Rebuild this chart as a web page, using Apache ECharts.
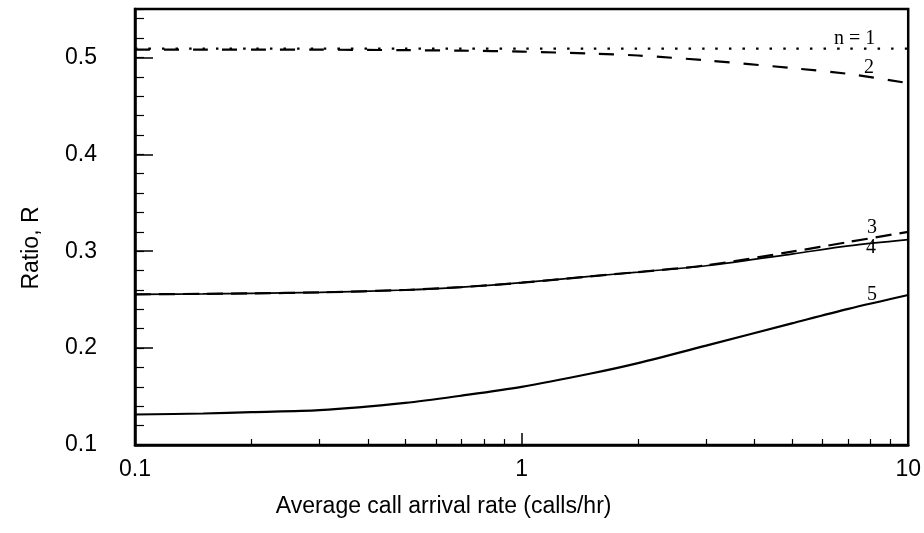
<!DOCTYPE html>
<html>
<head>
<meta charset="utf-8">
<script src="https://cdn.jsdelivr.net/npm/echarts@6/dist/echarts.min.js"></script>
<style>
  html, body { margin: 0; padding: 0; background: #fff; }
  #chart { width: 924px; height: 533px; }
</style>
</head>
<body>
<div id="chart"></div>
<script>
// average call arrival rate (calls/hr), shared x values of all curves
const rates = [0.1, 0.15, 0.2, 0.3, 0.5, 0.7, 1, 1.5, 2, 3, 5, 7, 10];

// ratio R for n = 1..5
const ratioN1 = [0.509, 0.509, 0.509, 0.509, 0.509, 0.509, 0.509, 0.509, 0.509, 0.509, 0.509, 0.509, 0.509];
const ratioN2 = [0.508, 0.508, 0.508, 0.508, 0.5075, 0.507, 0.506, 0.504, 0.502, 0.497, 0.489, 0.483, 0.4735];
const ratioN3 = [0.2555, 0.256, 0.2565, 0.2575, 0.26, 0.263, 0.2675, 0.274, 0.2785, 0.2855, 0.2995, 0.3095, 0.32];
const ratioN4 = [0.2555, 0.256, 0.2565, 0.2575, 0.26, 0.263, 0.2675, 0.274, 0.2785, 0.285, 0.297, 0.3055, 0.312];
const ratioN5 = [0.1315, 0.1325, 0.134, 0.136, 0.1435, 0.151, 0.16, 0.1735, 0.1845, 0.2025, 0.2255, 0.2405, 0.2548];

const xMinorTicks = [0.2, 0.3, 0.4, 0.5, 0.6, 0.7, 0.8, 0.9, 2, 3, 4, 5, 6, 7, 8, 9];

function pairs(ys) {
  return rates.map(function (x, i) { return [x, ys[i]]; });
}

let chart = echarts.init(document.getElementById("chart"));
let sans = "Liberation Sans";
let serif = "Liberation Serif";

function curve(name, ys, type, width) {
  return {
    name: name,
    type: "line",
    data: pairs(ys),
    symbol: "none",
    smooth: 0.3,
    silent: true,
    lineStyle: { color: "#000", width: width, type: type }
  };
}

let option = {
  animation: false,
  backgroundColor: "#fff",
  grid: {
    left: 135, right: 12, top: 9, bottom: 88,
    show: true, borderColor: "#000", borderWidth: 2.5
  },
  xAxis: [
    {
      type: "log",
      logBase: 10,
      min: 0.1,
      max: 10,
      position: "bottom",
      axisLine: { lineStyle: { color: "#000", width: 2.5 } },
      axisTick: { inside: true, length: 12, lineStyle: { color: "#000", width: 1.5 } },
      axisLabel: { color: "#000", fontFamily: sans, fontSize: 23, margin: 13 },
      splitLine: { show: false },
      name: "Average call arrival rate (calls/hr)",
      nameLocation: "middle",
      nameGap: 50,
      nameTextStyle: { color: "#000", fontFamily: sans, fontSize: 23, padding: [0, 156, 0, 0] }
    },
    {
      type: "log",
      logBase: 10,
      min: 0.1,
      max: 10,
      position: "bottom",
      axisLine: { show: false },
      axisTick: { inside: true, length: 6, customValues: xMinorTicks, lineStyle: { color: "#000", width: 1.2 } },
      axisLabel: { show: false },
      splitLine: { show: false }
    }
  ],
  yAxis: [
    {
      type: "value",
      min: 0.1,
      max: 0.55,
      interval: 0.1,
      position: "left",
      axisLine: { show: true, lineStyle: { color: "#000", width: 2.5 } },
      axisTick: { show: true, inside: true, length: 18, lineStyle: { color: "#000", width: 1.5 } },
      axisLabel: {
        color: "#000", fontFamily: sans, fontSize: 23, margin: 38,
        showMaxLabel: false,
        formatter: function (v) { return v.toFixed(1); }
      },
      splitLine: { show: false },
      name: "Ratio, R",
      nameLocation: "middle",
      nameGap: 92,
      nameTextStyle: { color: "#000", fontFamily: sans, fontSize: 23, padding: [0, 42, 0, 0] }
    },
    {
      type: "value",
      min: 0.1,
      max: 0.55,
      interval: 0.02,
      position: "left",
      axisLine: { show: false },
      axisTick: { show: true, inside: true, length: 9, lineStyle: { color: "#000", width: 1.2 } },
      axisLabel: { show: false },
      splitLine: { show: false }
    }
  ],
  series: [
    curve("n = 1", ratioN1, [2.5, 11], 2.2),
    curve("2", ratioN2, [15, 14], 2.2),
    curve("5", ratioN5, "solid", 2.2),
    curve("4", ratioN4, "solid", 1.7),
    curve("3", ratioN3, [16, 8], 2.2)
  ],
  graphic: [
    { type: "text", left: 834, top: 29, style: { text: "n = 1", font: "20px " + serif, fill: "#000" } },
    { type: "text", left: 864, top: 58, style: { text: "2", font: "20px " + serif, fill: "#000" } },
    { type: "text", left: 867, top: 218, style: { text: "3", font: "20px " + serif, fill: "#000" } },
    { type: "text", left: 866, top: 238, style: { text: "4", font: "20px " + serif, fill: "#000" } },
    { type: "text", left: 867, top: 285, style: { text: "5", font: "20px " + serif, fill: "#000" } }
  ]
};

chart.setOption(option);
</script>
</body>
</html>
